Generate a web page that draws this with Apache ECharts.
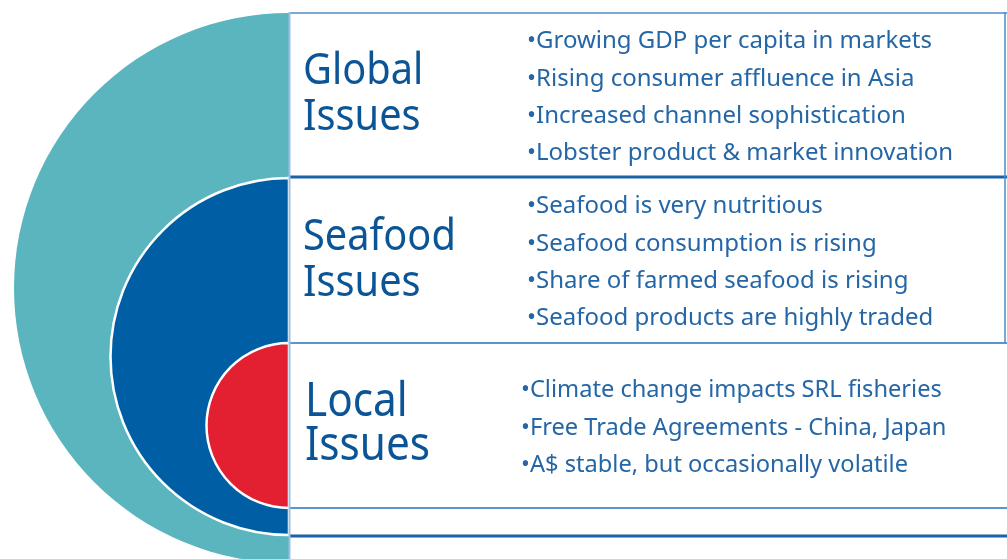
<!DOCTYPE html>
<html>
<head>
<meta charset="utf-8">
<script src="https://cdn.jsdelivr.net/npm/echarts@6/dist/echarts.min.js"></script>
<style>
  html, body { margin: 0; padding: 0; background: #fff; }
  #Chart { width: 1007px; height: 559px; }
</style>
</head>
<body>
<div id="Chart"></div>
<script>
// ring names (outer -> inner) and their headings
const rings = ["Global", "Seafood", "Local"]
const headings = ["Global\nIssues", "Seafood\nIssues", "Local\nIssues"]
// each ring is drawn as half of a pie: [hidden right half, visible left half]
const halfShares = [1, 1]
const globalPoints = [
  "Growing GDP per capita in markets",
  "Rising consumer affluence in Asia",
  "Increased channel sophistication",
  "Lobster product & market innovation"
]
const seafoodPoints = [
  "Seafood is very nutritious",
  "Seafood consumption is rising",
  "Share of farmed seafood is rising",
  "Seafood products are highly traded"
]
const localPoints = [
  "Climate change impacts SRL fisheries",
  "Free Trade Agreements - China, Japan",
  "A$ stable, but occasionally volatile"
]
const points = [globalPoints, seafoodPoints, localPoints]

// layout
const colors = ["#5bb5bf", "#005ea5", "#e31f32"]
const edgeX = 289
const rightX = 1005
const ringGeo = [
  { cy: 288, r: 275 },
  { cy: 356.5, r: 178.5 },
  { cy: 425.5, r: 82.5 }
]
const headFont = [43, 43, 47]
const headScale = [0.925, 0.925, 0.9]
const headX = [303, 303, 305]
const headBase = [87, 253, 420]
const headGap = [46, 46, 44]
const bulletX = [527, 527, 521]
const bulletBase = [50, 215, 399]
const bulletGap = 37.4
const bulletFont = 24
const bulletScale = [1, 1, 0.985]
const textColor = "#0b5596"
const bulletColor = "#2466a6"
const font = "\"Noto Sans\", \"Open Sans\", sans-serif"

const chart = echarts.init(document.getElementById("Chart"), null, { renderer: "canvas" })

const series = rings.map((name, i) => ({
  name: name,
  type: "pie",
  silent: true,
  animation: false,
  center: [edgeX, ringGeo[i].cy],
  radius: [0, ringGeo[i].r],
  startAngle: 90,
  label: { show: false },
  labelLine: { show: false },
  emphasis: { disabled: true },
  z: 2 + i,
  data: halfShares.map((v, k) => ({
    value: v,
    name: name + k,
    itemStyle: k === 0
      ? { color: "rgba(0,0,0,0)", borderWidth: 0 }
      : { color: colors[i], borderColor: "#fff", borderWidth: i === 0 ? 0 : 2.5 }
  }))
}))

const graphic = []
// box lines
const hLines = [
  { y: 13, w: 1.5, c: "#4f8bc8" },
  { y: 177, w: 3, c: "#1a62a8" },
  { y: 343, w: 2, c: "#5c95cd" },
  { y: 508, w: 2, c: "#5c95cd" },
  { y: 536, w: 3, c: "#1a62a8" }
]
hLines.forEach(l => {
  graphic.push({
    type: "line", z: 20,
    shape: { x1: edgeX, y1: l.y, x2: 1007, y2: l.y },
    style: { stroke: l.c, lineWidth: l.w }
  })
})
graphic.push({
  type: "line", z: 21,
  shape: { x1: edgeX + 0.5, y1: 12, x2: edgeX + 0.5, y2: 559 },
  style: { stroke: "#9dbfe0", lineWidth: 2 }
})
graphic.push({
  type: "line", z: 21,
  shape: { x1: rightX, y1: 12, x2: rightX, y2: 343 },
  style: { stroke: "#4f8bc8", lineWidth: 1.5 }
})

headings.forEach((h, i) => {
  h.split("\n").forEach((line, j) => {
    graphic.push({
      type: "text", z: 30,
      x: headX[i],
      y: headBase[i] + j * headGap[i] - headFont[i] * 0.36,
      scaleX: headScale[i],
      style: {
        text: line,
        font: headFont[i] + "px " + font,
        fill: textColor,
        verticalAlign: "middle"
      }
    })
  })
  points[i].forEach((p, j) => {
    graphic.push({
      type: "text", z: 30,
      x: bulletX[i],
      y: bulletBase[i] + j * bulletGap - bulletFont * 0.36,
      scaleX: bulletScale[i],
      style: {
        text: "•" + p,
        font: bulletFont + "px " + font,
        fill: bulletColor,
        verticalAlign: "middle"
      }
    })
  })
})

chart.setOption({
  animation: false,
  backgroundColor: "#fff",
  series: series,
  graphic: graphic
})
</script>
</body>
</html>
